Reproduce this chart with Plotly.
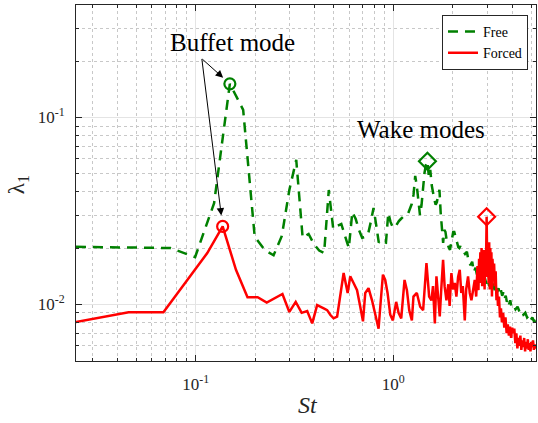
import numpy as np
import plotly.graph_objects as go

# ---- data ----
free_st = [0.0248, 0.0497, 0.0745, 0.0994, 0.124, 0.149, 0.174, 0.199, 0.224, 0.248,
           0.273, 0.298, 0.323, 0.348, 0.373, 0.397, 0.422, 0.447, 0.472, 0.497,
           0.522, 0.546, 0.571, 0.596, 0.621, 0.646, 0.671, 0.696, 0.720, 0.745,
           0.770, 0.795, 0.820, 0.845, 0.869, 0.894, 0.919, 0.944, 0.969, 0.994,
           1.018, 1.043, 1.068, 1.093, 1.118, 1.143, 1.167, 1.192, 1.217, 1.242,
           1.267, 1.292, 1.316, 1.341, 1.366, 1.391, 1.416, 1.440, 1.465, 1.490,
           1.515, 1.540, 1.565, 1.590, 1.615, 1.640, 1.664, 1.689, 1.714, 1.739,
           1.764, 1.789, 1.813, 1.838, 1.863, 1.888, 1.913, 1.938, 1.962, 1.987,
           2.012, 2.037, 2.062, 2.087, 2.111, 2.136, 2.161, 2.186, 2.211, 2.26,
           2.31, 2.36, 2.41, 2.46, 2.51, 2.56, 2.61, 2.66, 2.71, 2.76,
           2.81, 2.86, 2.91, 2.96, 3.01, 3.06, 3.11, 3.16, 3.21, 3.26,
           3.31, 3.36, 3.41, 3.46, 3.51, 3.56, 3.61, 3.66, 3.71, 3.76,
           3.81, 3.86, 3.91, 3.96, 4.06, 4.16, 4.26, 4.36, 4.46, 4.56,
           4.66, 4.76, 4.86, 4.96, 5.06, 5.16, 5.26]
free_lam = [0.0203, 0.0200, 0.0200, 0.0179, 0.0348, 0.1514, 0.1099, 0.0230, 0.0195, 0.0183,
            0.0232, 0.0409, 0.0593, 0.0227, 0.0238, 0.0210, 0.0194, 0.0188, 0.0409, 0.0253,
            0.0263, 0.0269, 0.0232, 0.0200, 0.0312, 0.0286, 0.0250, 0.0227, 0.0229, 0.0236,
            0.0276, 0.0328, 0.0266, 0.0214, 0.0221, 0.0216, 0.0214, 0.0308, 0.0276, 0.0259,
            0.0257, 0.0269, 0.0279, 0.0286, 0.0293, 0.0301, 0.0305, 0.0308, 0.0328, 0.0345,
            0.0386, 0.0487, 0.0430, 0.0363, 0.0300, 0.0340, 0.0436, 0.0506, 0.0560, 0.0583,
            0.0480, 0.0525, 0.0436, 0.0385, 0.0363, 0.0341, 0.0352, 0.0386, 0.0410, 0.0308,
            0.0267, 0.0213, 0.0250, 0.0244, 0.0221, 0.0205, 0.0200, 0.0196, 0.0208, 0.0226,
            0.0244, 0.0244, 0.0232, 0.0221, 0.0211, 0.0202, 0.0200, 0.0205, 0.0196, 0.0193,
            0.0186, 0.0191, 0.0169, 0.0162, 0.0169, 0.0149, 0.0157, 0.0142, 0.0149, 0.0135,
            0.0142, 0.0132, 0.0138, 0.0129, 0.0135, 0.0125, 0.0132, 0.0122, 0.0129, 0.0119,
            0.0125, 0.0116, 0.0122, 0.0113, 0.0119, 0.0111, 0.0116, 0.0107, 0.0111, 0.0103,
            0.0107, 0.0100, 0.0105, 0.0098, 0.0100, 0.0094, 0.0097, 0.0091, 0.0093, 0.0088,
            0.0090, 0.0085, 0.0087, 0.0082, 0.0085, 0.0081, 0.0082]

forced_st = [0.0229, 0.0458, 0.0687, 0.0916, 0.1145, 0.137, 0.160, 0.183, 0.206, 0.229,
             0.252, 0.275, 0.298, 0.321, 0.344, 0.367, 0.389, 0.412, 0.445, 0.463,
             0.481, 0.499, 0.520, 0.540, 0.561, 0.588, 0.606, 0.630, 0.656, 0.681,
             0.703, 0.722, 0.750, 0.781, 0.818, 0.843, 0.860, 0.887, 0.911, 0.936,
             0.966, 0.996, 1.035, 1.064, 1.098, 1.141, 1.173, 1.205, 1.243, 1.266,
             1.317, 1.369, 1.417, 1.473, 1.52, 1.561, 1.59, 1.624, 1.655, 1.69,
             1.720, 1.750, 1.788, 1.82, 1.859, 1.90, 1.930, 1.970, 2.01, 2.05,
             2.088, 2.13, 2.171, 2.21, 2.25, 2.302, 2.34, 2.392, 2.44, 2.488,
             2.54, 2.586, 2.63, 2.67, 2.70, 2.72, 2.74, 2.76, 2.78, 2.80,
             2.82, 2.84, 2.86, 2.88, 2.90, 2.92, 2.945, 2.97, 2.995, 3.02,
             3.04, 3.06, 3.08, 3.10, 3.12, 3.14, 3.16, 3.18, 3.21, 3.24,
             3.27, 3.30, 3.33, 3.36, 3.39, 3.43, 3.47, 3.51, 3.55, 3.60,
             3.65, 3.70, 3.75, 3.80, 3.85, 3.90, 3.95, 4.00, 4.05, 4.10,
             4.15, 4.20, 4.25, 4.30, 4.35, 4.40, 4.45, 4.50, 4.55, 4.60,
             4.65, 4.70, 4.75, 4.80, 4.85, 4.90, 4.95, 5.00, 5.05, 5.10,
             5.15, 5.20, 5.25, 5.30]
forced_lam = [0.00792, 0.00906, 0.00906, 0.0137, 0.0188, 0.0261, 0.0153, 0.0109, 0.0109, 0.0102,
              0.0108, 0.01135, 0.0091, 0.0103, 0.0090, 0.0092, 0.0079, 0.0099, 0.0095, 0.0093,
              0.00876, 0.00841, 0.00858, 0.0110, 0.0147, 0.0115, 0.0141, 0.0130, 0.0119, 0.0097,
              0.0081, 0.0115, 0.0122, 0.0105, 0.0086, 0.0074, 0.0097, 0.0144, 0.0135, 0.0115,
              0.0088, 0.0082, 0.0103, 0.0090, 0.0084, 0.0135, 0.0119, 0.0093, 0.0082, 0.0110,
              0.0115, 0.0097, 0.0093, 0.0166, 0.0110, 0.0105, 0.0125, 0.0079, 0.0141, 0.0105,
              0.0086, 0.0120, 0.0173, 0.0125, 0.0105, 0.0128, 0.0098, 0.0147, 0.0120, 0.0130,
              0.0110, 0.0140, 0.0153, 0.0115, 0.0125, 0.0082, 0.0120, 0.0141, 0.0115, 0.0105,
              0.0125, 0.0135, 0.0110, 0.0160, 0.0119, 0.0175, 0.0130, 0.0190, 0.0140, 0.0200,
              0.0125, 0.0185, 0.0135, 0.0195, 0.0120, 0.0180, 0.0150, 0.0294, 0.0140, 0.0205,
              0.0130, 0.0215, 0.0120, 0.0200, 0.0135, 0.0190, 0.0110, 0.0175, 0.0140, 0.0165,
              0.0125, 0.0150, 0.0105, 0.0120, 0.0098, 0.0110, 0.0085, 0.0095, 0.0080, 0.0090,
              0.0075, 0.0085, 0.0070, 0.0078, 0.0068, 0.0076, 0.0066, 0.0075, 0.0070, 0.0074,
              0.0062, 0.0070, 0.0058, 0.0066, 0.0060, 0.0068, 0.0057, 0.0064, 0.0059, 0.0066,
              0.0056, 0.0063, 0.0058, 0.0065, 0.0057, 0.0062, 0.0056, 0.0063, 0.0059, 0.0064,
              0.0057, 0.0061, 0.0058, 0.0060]

# highlighted modes
buffet_st = [0.149, 0.137]          # Free, Forced
buffet_lam = [0.1514, 0.0261]
wake_st = [1.490, 2.97]             # Free, Forced
wake_lam = [0.0583, 0.0294]

x_ticks = [0.1, 1]
x_ticktext = ["10<sup>-1</sup>", "10<sup>0</sup>"]
y_ticks = [0.01, 0.1]
y_ticktext = ["10<sup>-2</sup>", "10<sup>-1</sup>"]
x_minor = [0.03, 0.04, 0.05, 0.06, 0.07, 0.08, 0.09, 0.2, 0.3, 0.4, 0.5, 0.6, 0.7, 0.8, 0.9, 2, 3, 4, 5]
y_minor = [0.005, 0.006, 0.007, 0.008, 0.009, 0.02, 0.03, 0.04, 0.05, 0.06, 0.07, 0.08, 0.09, 0.2, 0.3, 0.4]
x_lim = [0.0248, 5.28]
y_lim = [0.00497, 0.40]

GREEN = "#008000"
RED = "#ff0000"
AX = "#262626"
SERIF = "Liberation Serif, Times New Roman, serif"

fig = go.Figure()
fig.add_trace(go.Scatter(x=free_st, y=free_lam, mode="lines", name="Free",
                         line=dict(color=GREEN, width=2.5, dash="10px,7px")))
fig.add_trace(go.Scatter(x=forced_st, y=forced_lam, mode="lines", name="Forced",
                         line=dict(color=RED, width=2.5)))
fig.add_trace(go.Scatter(x=[buffet_st[0]], y=[buffet_lam[0]], mode="markers", showlegend=False,
                         marker=dict(symbol="circle-open", size=11, color=GREEN, line=dict(width=2.2, color=GREEN))))
fig.add_trace(go.Scatter(x=[buffet_st[1]], y=[buffet_lam[1]], mode="markers", showlegend=False,
                         marker=dict(symbol="circle-open", size=11, color=RED, line=dict(width=2.2, color=RED))))
fig.add_trace(go.Scatter(x=[wake_st[0]], y=[wake_lam[0]], mode="markers", showlegend=False,
                         marker=dict(symbol="diamond-open", size=13, color=GREEN, line=dict(width=2.2, color=GREEN))))
fig.add_trace(go.Scatter(x=[wake_st[1]], y=[wake_lam[1]], mode="markers", showlegend=False,
                         marker=dict(symbol="diamond-open", size=13, color=RED, line=dict(width=2.2, color=RED))))

axis_common = dict(
    type="log", ticks="inside", ticklen=6, tickcolor=AX, tickwidth=1,
    showline=True, linecolor=AX, linewidth=1, mirror="ticks",
    showgrid=True, gridcolor="#e4e4e4", gridwidth=1, zeroline=False,
    tickfont=dict(family=SERIF, size=17, color=AX),
)

fig.update_xaxes(**axis_common, range=[np.log10(x_lim[0]), np.log10(x_lim[1])],
                 tickmode="array", tickvals=x_ticks, ticktext=x_ticktext, ticklabelstandoff=8,
                 minor=dict(tickmode="array", tickvals=x_minor, ticks="inside", ticklen=3,
                            tickcolor=AX, showgrid=True, gridcolor="#c8c8c8", griddash="dot", gridwidth=1))
fig.update_yaxes(**axis_common, range=[np.log10(y_lim[0]), np.log10(y_lim[1])],
                 tickmode="array", tickvals=y_ticks, ticktext=y_ticktext, ticklabelstandoff=7,
                 minor=dict(tickmode="array", tickvals=y_minor, ticks="inside", ticklen=3,
                            tickcolor=AX, showgrid=True, gridcolor="#c8c8c8", griddash="dot", gridwidth=1))

annotations = [
    dict(x=np.log10(buffet_st[0]), y=np.log10(buffet_lam[0]), xref="x", yref="y",
         ax=-29, ay=-26, showarrow=True, arrowhead=2, arrowsize=1.5, arrowwidth=1,
         arrowcolor="black", standoff=9, text=""),
    dict(x=np.log10(buffet_st[1]), y=np.log10(buffet_lam[1]), xref="x", yref="y",
         ax=-21, ay=-169, showarrow=True, arrowhead=2, arrowsize=1.5, arrowwidth=1,
         arrowcolor="black", standoff=11, text=""),
    dict(x=0.341, y=0.896, xref="paper", yref="paper", text="Buffet mode", showarrow=False,
         font=dict(family=SERIF, size=25, color="black"), xanchor="center", yanchor="middle"),
    dict(x=0.749, y=0.649, xref="paper", yref="paper", text="Wake modes", showarrow=False,
         font=dict(family=SERIF, size=25, color="black"), xanchor="center", yanchor="middle"),
    dict(x=0.504, y=-0.124, xref="paper", yref="paper", text="<i>St</i>", showarrow=False,
         font=dict(family=SERIF, size=24, color=AX), xanchor="center", yanchor="middle"),
    dict(x=-0.126, y=0.494, xref="paper", yref="paper", text="λ<sub>1</sub>", showarrow=False,
         textangle=-90, font=dict(family=SERIF, size=23, color=AX), xanchor="center", yanchor="middle"),
]

fig.update_layout(
    width=538, height=423,
    margin=dict(l=76, r=2, t=5, b=62),
    paper_bgcolor="white", plot_bgcolor="white",
    showlegend=True,
    legend=dict(x=0.9826, y=0.972, xanchor="right", yanchor="top",
                bordercolor=AX, borderwidth=1, bgcolor="white",
                font=dict(family=SERIF, size=14, color="black"),
                tracegroupgap=0, itemwidth=30),
    annotations=annotations,
)

fig.write_html("out.html")
